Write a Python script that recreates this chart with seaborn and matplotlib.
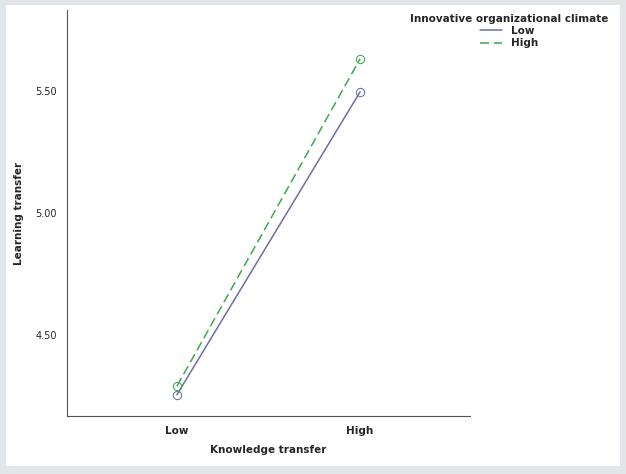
import matplotlib
matplotlib.use("Agg")
import matplotlib.pyplot as plt
import matplotlib.patches as mpatches
import pandas as pd
import seaborn as sns

# --- Datos ---
knowledge = ["Low", "High"]
climate_low = [4.255, 5.495]
climate_high = [4.29, 5.63]

df = pd.DataFrame({
    "Knowledge transfer": knowledge * 2,
    "Learning transfer": climate_low + climate_high,
    "climate": ["Low"] * 2 + ["High"] * 2,
})

sns.set_style("white")
fig = plt.figure(figsize=(6.26, 4.74), dpi=100, facecolor="#e3e6e8")
fig.patches.append(mpatches.Rectangle((6 / 626, 8 / 474), 614 / 626, 461 / 474,
                                      transform=fig.transFigure, facecolor="white",
                                      edgecolor="none", zorder=-10))
ax = fig.add_axes([67 / 626, 58 / 474, 403 / 626, 406 / 474])
ax.set_facecolor("none")

colors = {"Low": "#6b6fa8", "High": "#3daa4a"}
styles = {"Low": "-", "High": (0, (6, 3))}
for lev in ["Low", "High"]:
    d = df[df["climate"] == lev]
    sns.lineplot(data=d, x="Knowledge transfer", y="Learning transfer", ax=ax,
                 color=colors[lev], linestyle=styles[lev], linewidth=1.1,
                 marker="o", markersize=6, markerfacecolor="none",
                 markeredgecolor=colors[lev], label=lev, legend=False)

ax.set_xlim(-0.6, 1.6)
ax.set_ylim(4.168, 5.83)
ax.set_yticks([4.5, 5.0, 5.5])
ax.set_yticklabels(["4.50", "5.00", "5.50"], fontsize=7)
ax.set_xticks([0, 1])
ax.set_xticklabels(knowledge, fontsize=7.5, fontweight="bold")
ax.tick_params(axis="both", length=4, width=0.8, color="#333333", direction="out")
for s in ["top", "right"]:
    ax.spines[s].set_visible(False)
for s in ["left", "bottom"]:
    ax.spines[s].set_color("#555555")
    ax.spines[s].set_linewidth(0.8)
ax.set_xlabel("Knowledge transfer", fontsize=7.5, fontweight="bold", labelpad=6)
ax.set_ylabel("Learning transfer", fontsize=7.5, fontweight="bold", labelpad=8)

handles = [plt.Line2D([], [], color=colors[l], linestyle=styles[l], linewidth=1.1)
           for l in ["Low", "High"]]
leg = fig.legend(handles, ["Low", "High"], title="Innovative organizational climate",
                 loc="upper right", bbox_to_anchor=(608 / 626, 1 - 14 / 474),
                 frameon=False, fontsize=7.5,
                 title_fontproperties={"weight": "bold", "size": 7.5},
                 handlelength=2.2, labelspacing=0.2, borderaxespad=0, borderpad=0)
for t in leg.get_texts():
    t.set_fontweight("bold")

fig.savefig("out.png", dpi=100, facecolor=fig.get_facecolor())
